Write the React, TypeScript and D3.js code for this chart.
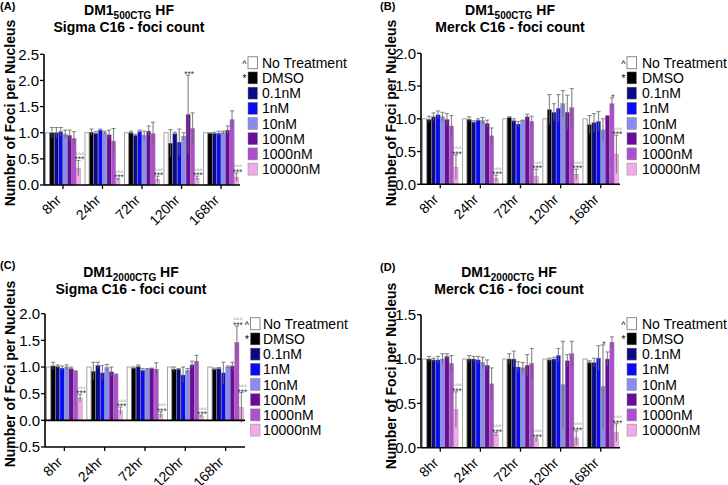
import React from "react";
import * as d3 from "d3";

const TIMEPOINTS = ["8hr", "24hr", "72hr", "120hr", "168hr"];
const SERIES = ["No Treatment", "DMSO", "0.1nM", "1nM", "10nM", "100nM", "1000nM", "10000nM"];
const COLORS = ["#ffffff", "#000000", "#0b0b85", "#0a0af5", "#8a8cf2", "#6a0c9a", "#b04ed2", "#f4a9ea"];
const LEGEND_MARKS = ["^", "*", "", "", "", "", "", ""];

// Panel A: DM1 500CTG, Sigma C16 (rows = timepoints, cols = series)
const A_MEANS = [
  [1.0, 1.0, 1.0, 1.02, 0.97, 0.95, 0.89, 0.32],
  [1.0, 1.01, 0.99, 1.05, 1.0, 0.96, 0.84, 0.11],
  [1.0, 1.0, 0.95, 1.02, 0.95, 1.03, 0.98, 0.11],
  [1.0, 0.8, 0.98, 0.82, 0.93, 1.35, 1.08, 0.13],
  [1.0, 0.99, 0.99, 0.99, 1.0, 1.05, 1.25, 0.15],
];
const A_ERRS = [
  [0, 0.1, 0.1, 0.08, 0.08, 0.1, 0.13, 0.15],
  [0, 0.06, 0.03, 0.02, 0.03, 0.09, 0.24, 0.02],
  [0, 0.03, 0.02, 0.03, 0.08, 0.1, 0.22, 0.06],
  [0, 0.26, 0.03, 0.25, 0.07, 0.75, 0.3, 0.04],
  [0, 0.01, 0.02, 0.04, 0.03, 0.08, 0.17, 0.08],
];
const A_NOTES = [
  { t: "8hr", s: "10000nM", rows: ["^^^", "***"] },
  { t: "24hr", s: "10000nM", rows: ["^^^", "***"] },
  { t: "72hr", s: "10000nM", rows: ["^^^", "***"] },
  { t: "120hr", s: "10000nM", rows: ["^^^", "***"] },
  { t: "168hr", s: "10000nM", rows: ["^^^", "***"] },
  { t: "120hr", s: "100nM", rows: ["***"] },
];

// Panel B: DM1 500CTG, Merck C16
const B_MEANS = [
  [1.0, 0.99, 1.03, 1.06, 1.03, 0.99, 0.89, 0.26],
  [1.0, 0.99, 0.95, 0.98, 0.97, 0.93, 0.74, 0.09],
  [1.0, 1.02, 0.97, 0.92, 0.97, 1.03, 0.96, 0.12],
  [1.0, 1.14, 1.1, 1.16, 1.23, 1.1, 1.17, 0.15],
  [1.0, 0.91, 0.94, 0.96, 0.83, 1.05, 1.23, 0.46],
];
const B_ERRS = [
  [0, 0.05, 0.06, 0.06, 0.07, 0.09, 0.16, 0.19],
  [0, 0.04, 0.02, 0.02, 0.05, 0.05, 0.12, 0.05],
  [0, 0.01, 0.03, 0.04, 0.01, 0.04, 0.08, 0.11],
  [0, 0.23, 0.13, 0.21, 0.2, 0.26, 0.29, 0.08],
  [0, 0.14, 0.14, 0.15, 0.17, 0.0, 0.09, 0.29],
];
const B_NOTES = [
  { t: "8hr", s: "10000nM", rows: ["^^^", "***"] },
  { t: "24hr", s: "10000nM", rows: ["^^^", "***"] },
  { t: "72hr", s: "10000nM", rows: ["^^^", "***"] },
  { t: "120hr", s: "10000nM", rows: ["^^^", "***"] },
  { t: "168hr", s: "10000nM", rows: ["^^^", "***"] },
  { t: "168hr", s: "1000nM", rows: ["*"] },
];

// Panel C: DM1 2000CTG, Sigma C16
const C_MEANS = [
  [1.0, 1.02, 1.01, 0.98, 1.0, 0.97, 0.92, 0.42],
  [1.0, 0.92, 1.03, 0.89, 0.99, 0.91, 0.86, 0.18],
  [1.0, 0.98, 1.01, 0.94, 0.96, 0.97, 0.96, 0.11],
  [1.0, 0.96, 0.96, 0.85, 0.93, 1.04, 1.11, 0.08],
  [1.0, 0.96, 0.97, 0.89, 1.0, 1.02, 1.46, 0.24],
];
const C_ERRS = [
  [0, 0.07, 0.03, 0.04, 0.04, 0.03, 0.01, 0.07],
  [0, 0.17, 0.06, 0.14, 0.06, 0.09, 0.01, 0.07],
  [0, 0.02, 0.03, 0.03, 0.01, 0.01, 0.12, 0.05],
  [0, 0.04, 0.01, 0.15, 0.04, 0.07, 0.11, 0.02],
  [0, 0.02, 0.02, 0.2, 0.02, 0.07, 0.31, 0.28],
];
const C_NOTES = [
  { t: "8hr", s: "10000nM", rows: ["^^^", "***"] },
  { t: "24hr", s: "10000nM", rows: ["^^^", "***"] },
  { t: "72hr", s: "10000nM", rows: ["^^^", "***"] },
  { t: "120hr", s: "10000nM", rows: ["^^^", "***"] },
  { t: "168hr", s: "10000nM", rows: ["^^^", "***"] },
  { t: "168hr", s: "1000nM", rows: ["^^^", "***"] },
];

// Panel D: DM1 2000CTG, Merck C16
const D_MEANS = [
  [1.0, 1.0, 0.99, 0.99, 1.0, 1.03, 0.95, 0.43],
  [1.0, 1.0, 1.0, 0.99, 0.96, 0.93, 0.72, 0.15],
  [1.0, 1.0, 1.0, 0.91, 0.9, 0.93, 0.95, 0.09],
  [1.0, 0.99, 1.0, 1.04, 0.71, 0.98, 1.06, 0.11],
  [1.0, 0.96, 0.96, 1.01, 0.69, 1.0, 1.19, 0.17],
];
const D_ERRS = [
  [0, 0.03, 0.02, 0.04, 0.06, 0.03, 0.09, 0.2],
  [0, 0.04, 0.03, 0.04, 0.06, 0.06, 0.18, 0.02],
  [0, 0.06, 0.09, 0.06, 0.06, 0.12, 0.17, 0.02],
  [0, 0.02, 0.02, 0.08, 0.49, 0.07, 0.14, 0.08],
  [0, 0.02, 0.05, 0.14, 0.47, 0.08, 0.06, 0.1],
];
const D_NOTES = [
  { t: "8hr", s: "10000nM", rows: ["^^^", "***"] },
  { t: "24hr", s: "10000nM", rows: ["^^^", "***"] },
  { t: "72hr", s: "10000nM", rows: ["^^^", "***"] },
  { t: "120hr", s: "10000nM", rows: ["^^^", "***"] },
  { t: "168hr", s: "10000nM", rows: ["^^^", "***"] },
  { t: "168hr", s: "10nM", rows: ["*"] },
];

const Y_DOMAINS = {
  A: [0, 2.5],
  B: [0, 2.0],
  C: [-0.5, 2.0],
  D: [0, 1.5],
};

const FONT = "'Liberation Sans', Arial, Helvetica, sans-serif";

type Cfg = {
  id: string;
  sub: string;
  line2: string;
  x0: number;
  x1: number;
  yTop: number;
  yBot: number;
  domain: number[];
  legX: number;
  legTextX: number;
  legY: number;
  titleX: number;
  titleY: number;
  labX: number;
  labY: number;
  yLabX: number;
  yLabY: number;
};

function Panel({ cfg, means, errs, notes }: { cfg: Cfg; means: number[][]; errs: number[][]; notes: any[] }) {
  const x = d3.scaleBand().domain(TIMEPOINTS).range([cfg.x0, cfg.x1]).paddingInner(0.1).paddingOuter(0.03);
  const xs = d3.scaleBand().domain(SERIES).range([0, x.bandwidth()]).padding(0.06);
  const y = d3.scaleLinear().domain(cfg.domain).range([cfg.yBot, cfg.yTop]);
  const ticks = d3.range(cfg.domain[0], cfg.domain[1] + 0.001, 0.5);
  const bw = xs.bandwidth();
  const y0 = y(0);
  const fmt = d3.format(".1f");

  return (
    <g>
      <text x={cfg.labX} y={cfg.labY} fontSize={11} fontWeight="bold" fontFamily={FONT}>
        ({cfg.id})
      </text>
      <text x={cfg.titleX} y={cfg.titleY} textAnchor="middle" fontSize={14} fontWeight="bold" fontFamily={FONT}>
        <tspan>DM1</tspan>
        <tspan fontSize={10} dy={4}>{cfg.sub}</tspan>
        <tspan dy={-4}> HF</tspan>
      </text>
      <text x={cfg.titleX} y={cfg.titleY + 16.5} textAnchor="middle" fontSize={14} fontWeight="bold" fontFamily={FONT}>
        {cfg.line2}
      </text>
      <text
        transform={`translate(${cfg.yLabX},${cfg.yLabY}) rotate(-90)`}
        textAnchor="middle"
        fontSize={14}
        fontWeight="bold"
        fontFamily={FONT}
      >
        Number of Foci per Nucleus
      </text>

      {TIMEPOINTS.map((t, ti) =>
        SERIES.map((s, si) => {
          const v = means[ti][si];
          const bx = (x(t) as number) + (xs(s) as number);
          const yv = y(v);
          return (
            <rect
              key={`b-${t}-${s}`}
              x={bx}
              y={Math.min(yv, y0)}
              width={bw}
              height={Math.abs(y0 - yv)}
              fill={COLORS[si]}
              stroke={si === 0 ? "#9a9a9a" : "#8a8a8a"}
              strokeWidth={si === 0 ? 0.9 : 0.4}
            />
          );
        })
      )}
      {TIMEPOINTS.map((t, ti) =>
        SERIES.map((s, si) => {
          const v = means[ti][si];
          const e = errs[ti][si];
          if (!e) return null;
          const cx = (x(t) as number) + (xs(s) as number) + bw / 2;
          const yt = y(v + e);
          const yb = y(v - e);
          return (
            <g key={`e-${t}-${s}`}>
              <line x1={cx} x2={cx} y1={yb} y2={yt} stroke="#666" strokeOpacity={0.75} strokeWidth={1.2} />
              <line x1={cx - bw / 2} x2={cx + bw / 2} y1={yt} y2={yt} stroke="#666" strokeOpacity={0.8} strokeWidth={1} />
            </g>
          );
        })
      )}
      {notes.map((n, k) => {
        const ti = TIMEPOINTS.indexOf(n.t);
        const si = SERIES.indexOf(n.s);
        const v = means[ti][si];
        const e = errs[ti][si];
        const cx = (x(n.t) as number) + (xs(n.s) as number) + bw / 2 + 1;
        const base = y(v + e) + 2;
        const nr = n.rows.length;
        return (
          <g key={`n-${k}`}>
            {n.rows.map((r: string, ri: number) => (
              <text
                key={ri}
                x={cx}
                y={base - (nr - 1 - ri) * 5.5}
                textAnchor="middle"
                fontSize={r.startsWith("^") ? 6.5 : 8.5}
                fill={r.startsWith("^") ? "#8a8a8a" : "#3a3a3a"}
                fontFamily={FONT}
              >
                {r}
              </text>
            ))}
          </g>
        );
      })}

      <line x1={cfg.x0} x2={cfg.x0} y1={cfg.yTop} y2={cfg.yBot} stroke="#000" strokeWidth={1.6} />
      {ticks.map((tv) => (
        <g key={`yt-${tv}`}>
          <line x1={cfg.x0 - 4} x2={cfg.x0} y1={y(tv)} y2={y(tv)} stroke="#000" strokeWidth={1.3} />
          <text x={cfg.x0 - 5} y={y(tv)} dy="0.36em" textAnchor="end" fontSize={15} fontFamily={FONT}>
            {fmt(tv)}
          </text>
        </g>
      ))}
      {cfg.domain[0] < 0 && (
        <line x1={cfg.x0} x2={cfg.x1} y1={y0} y2={y0} stroke="#000" strokeWidth={1.6} />
      )}
      <line x1={cfg.x0} x2={cfg.x1} y1={cfg.yBot} y2={cfg.yBot} stroke="#000" strokeWidth={1.6} />
      {TIMEPOINTS.map((t) => {
        const cx = (x(t) as number) + x.bandwidth() / 2;
        return (
          <g key={`xt-${t}`}>
            <line x1={cx} x2={cx} y1={cfg.yBot} y2={cfg.yBot + 4} stroke="#000" strokeWidth={1.3} />
            <text
              transform={`translate(${cx - 1},${cfg.yBot + 16}) rotate(-45)`}
              textAnchor="end"
              fontSize={14}
              fontFamily={FONT}
            >
              {t}
            </text>
          </g>
        );
      })}

      {SERIES.map((s, si) => {
        const cy = cfg.legY + si * 15.2;
        return (
          <g key={`l-${s}`}>
            {LEGEND_MARKS[si] && (
              <text x={cfg.legX - 1.5} y={cy + 4} textAnchor="end" fontSize={si === 0 ? 9 : 10} fontFamily={FONT}>
                {LEGEND_MARKS[si]}
              </text>
            )}
            <rect
              x={cfg.legX}
              y={cy - 6}
              width={9.5}
              height={12}
              fill={COLORS[si]}
              stroke={si === 0 ? "#8a8a8a" : "#888"}
              strokeWidth={si === 0 ? 1 : 0.5}
            />
            <text x={cfg.legTextX} y={cy} dy="0.36em" fontSize={14} fontFamily={FONT}>
              {s}
            </text>
          </g>
        );
      })}
    </g>
  );
}

const CFG_A: Cfg = {
  id: "A", sub: "500CTG", line2: "Sigma C16 - foci count",
  x0: 44, x1: 240, yTop: 54.3, yBot: 185, domain: Y_DOMAINS.A,
  legX: 248, legTextX: 262, legY: 62.7, titleX: 129, titleY: 15,
  labX: 0, labY: 10, yLabX: 15, yLabY: 113,
};
const CFG_B: Cfg = {
  id: "B", sub: "500CTG", line2: "Merck C16 - foci count",
  x0: 421, x1: 620, yTop: 53.3, yBot: 184.3, domain: Y_DOMAINS.B,
  legX: 627, legTextX: 642, legY: 62.7, titleX: 510, titleY: 15,
  labX: 380, labY: 10, yLabX: 396, yLabY: 113,
};
const CFG_C: Cfg = {
  id: "C", sub: "2000CTG", line2: "Sigma C16 - foci count",
  x0: 45, x1: 245, yTop: 313.7, yBot: 447, domain: Y_DOMAINS.C,
  legX: 250.5, legTextX: 263, legY: 323.7, titleX: 131, titleY: 277,
  labX: 0, labY: 269, yLabX: 15, yLabY: 374,
};
const CFG_D: Cfg = {
  id: "D", sub: "2000CTG", line2: "Merck C16 - foci count",
  x0: 421, x1: 620, yTop: 314.7, yBot: 447.7, domain: Y_DOMAINS.D,
  legX: 627, legTextX: 642, legY: 323.7, titleX: 509, titleY: 277,
  labX: 380, labY: 271, yLabX: 396, yLabY: 376,
};

export default function App() {
  return (
    <svg
      width={728}
      height={485}
      viewBox="0 0 728 485"
      style={{ position: "absolute", left: 0, top: 0, background: "#fff" }}
    >
      <rect x={0} y={0} width={728} height={485} fill="#fff" />
      <Panel cfg={CFG_A} means={A_MEANS} errs={A_ERRS} notes={A_NOTES} />
      <Panel cfg={CFG_B} means={B_MEANS} errs={B_ERRS} notes={B_NOTES} />
      <Panel cfg={CFG_C} means={C_MEANS} errs={C_ERRS} notes={C_NOTES} />
      <Panel cfg={CFG_D} means={D_MEANS} errs={D_ERRS} notes={D_NOTES} />
    </svg>
  );
}
